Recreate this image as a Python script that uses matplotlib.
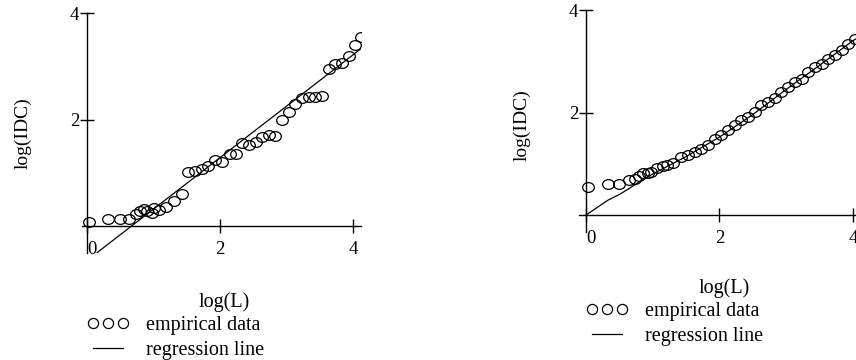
# -----------
# > Imports <
# -----------
import matplotlib.pyplot as plt
from matplotlib.lines import Line2D
from matplotlib.path import Path


# --------
# > Data <
# --------
left_x = [0.03, 0.31, 0.49, 0.63, 0.74, 0.80, 0.85, 0.90, 0.97, 1.01, 1.08, 1.19,
          1.30, 1.42, 1.52, 1.62, 1.72, 1.82, 1.92, 2.02, 2.14, 2.23, 2.33, 2.43,
          2.53, 2.63, 2.73, 2.83, 2.93, 3.03, 3.13, 3.23, 3.33, 3.43, 3.53, 3.63,
          3.73, 3.83, 3.93, 4.03, 4.11]
left_y = [0.08, 0.14, 0.13, 0.13, 0.22, 0.29, 0.31, 0.28, 0.24, 0.34, 0.30, 0.36,
          0.47, 0.61, 1.02, 1.03, 1.08, 1.13, 1.25, 1.20, 1.35, 1.36, 1.56, 1.53,
          1.58, 1.67, 1.71, 1.70, 1.99, 2.15, 2.29, 2.40, 2.43, 2.42, 2.45, 2.95,
          3.05, 3.07, 3.20, 3.40, 3.55]
left_reg_x = [0.15, 4.12]
left_reg_y = [-0.50, 3.34]

right_x = [0.03, 0.33, 0.50, 0.65, 0.73, 0.80, 0.86, 0.93, 0.98, 1.06, 1.15, 1.22,
           1.31, 1.43, 1.53, 1.63, 1.73, 1.83, 1.93, 2.03, 2.13, 2.23, 2.33, 2.43,
           2.53, 2.63, 2.73, 2.83, 2.93, 3.03, 3.13, 3.23, 3.33, 3.43, 3.53, 3.63,
           3.73, 3.83, 3.93, 4.03]
right_y = [0.55, 0.60, 0.60, 0.68, 0.71, 0.76, 0.81, 0.82, 0.84, 0.91, 0.95, 0.97,
           1.01, 1.14, 1.17, 1.23, 1.29, 1.36, 1.49, 1.56, 1.66, 1.75, 1.85, 1.92,
           2.01, 2.14, 2.21, 2.29, 2.40, 2.50, 2.60, 2.66, 2.79, 2.89, 2.95, 3.05,
           3.12, 3.21, 3.34, 3.44]
right_reg_x = [0.0, 0.33, 0.50, 0.65, 0.80, 1.00, 1.50, 2.00, 2.50, 3.00, 3.50, 4.00, 4.15]
right_reg_y = [0.0, 0.29, 0.40, 0.52, 0.65, 0.80, 1.14, 1.52, 1.96, 2.45, 2.92, 3.40, 3.52]

x_ticks = [0, 2, 4]
y_ticks = [2, 4]
x_label = "log(L)"
y_label = "log(IDC)"
legend_labels = ["empirical data", "regression line"]


# ---------
# > Style <
# ---------
plt.rcParams["font.family"] = ["Liberation Serif", "DejaVu Serif"]

# the source image is slightly stretched sideways, so the circles are ellipses
_circle = Path.unit_circle()
ellipse = Path(_circle.vertices * [1.2, 1.0], _circle.codes)


# ------------------
# > Panel plotting <
# ------------------
def draw_panel(ax, x, y, reg_x, reg_y, xlim, ylim, ylabel_xy, xlabel_xy, legend_xy):
    ax.plot(x, y, ls="none", marker=ellipse, ms=8.4, mfc="none", mec="black", mew=0.9)
    ax.plot(reg_x, reg_y, color="black", lw=0.9)

    ax.set_xlim(*xlim)
    ax.set_ylim(*ylim)

    # axes crossing at the origin
    for side in ["top", "right"]:
        ax.spines[side].set_visible(False)
    ax.spines["left"].set_position(("data", 0))
    ax.spines["bottom"].set_position(("data", 0))
    ax.spines["left"].set_linewidth(1.0)
    ax.spines["bottom"].set_linewidth(1.0)

    ax.set_xticks(x_ticks)
    ax.set_xticklabels([str(t) for t in x_ticks])
    ax.set_yticks(y_ticks)
    ax.set_yticklabels([str(t) for t in y_ticks])
    ax.tick_params(axis="both", direction="inout", length=9.5, width=1.0, labelsize=13.5)
    ax.tick_params(axis="x", pad=6)
    ax.tick_params(axis="y", pad=1)
    ax.xaxis.get_major_ticks()[0].label1.set_horizontalalignment("left")

    ax.set_ylabel(y_label, fontsize=14)
    ax.yaxis.label.set_verticalalignment("center")
    ax.yaxis.set_label_coords(*ylabel_xy)

    ax.set_xlabel(x_label, fontsize=14.5)
    ax.xaxis.label.set_verticalalignment("baseline")
    ax.xaxis.set_label_coords(*xlabel_xy)

    handles = [
        Line2D([], [], ls="none", marker="o", ms=7.3, mfc="none", mec="black", mew=0.9),
        Line2D([], [], color="black", lw=0.9),
    ]
    ax.legend(
        handles, legend_labels,
        loc="upper left", bbox_to_anchor=legend_xy,
        frameon=False, numpoints=3, fontsize=14.5,
        handlelength=2.1, handletextpad=0.8, labelspacing=0.3,
        borderpad=0, borderaxespad=0,
    )


fig = plt.figure(figsize=(8.56, 3.6), dpi=100)

ax_left = fig.add_axes([0.0953, 0.297, 0.326, 0.666])
draw_panel(
    ax_left, left_x, left_y, left_reg_x, left_reg_y,
    xlim=(-0.085, 4.11), ylim=(-0.51, 4.0),
    ylabel_xy=(-0.21, 0.50), xlabel_xy=(0.51, -0.2235), legend_xy=(0.02, -0.262),
)

ax_right = fig.add_axes([0.6768, 0.3558, 0.3289, 0.6164])
draw_panel(
    ax_right, right_x, right_y, right_reg_x, right_reg_y,
    xlim=(-0.1, 4.12), ylim=(-0.33, 4.0),
    ylabel_xy=(-0.2046, 0.482), xlabel_xy=(0.514, -0.275), legend_xy=(0.024, -0.316),
)

fig.savefig("out.png", dpi=100)
plt.close(fig)
